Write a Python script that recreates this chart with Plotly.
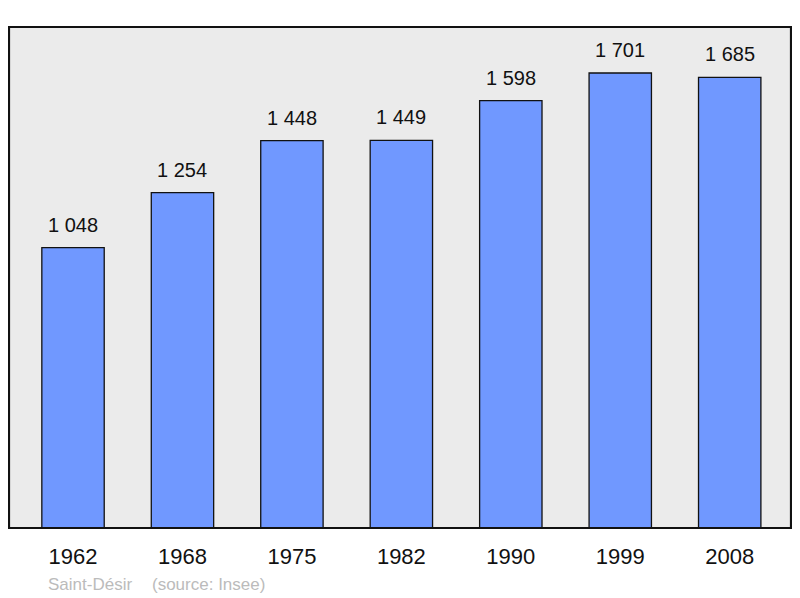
import plotly.graph_objects as go

years = ["1962", "1968", "1975", "1982", "1990", "1999", "2008"]
population = [1048, 1254, 1448, 1449, 1598, 1701, 1685]
value_labels = ["1 048", "1 254", "1 448", "1 449", "1 598", "1 701", "1 685"]

xs = list(range(len(years)))
FONT = "Liberation Sans, Arial, sans-serif"

fig = go.Figure()
fig.add_trace(go.Bar(
    x=xs, y=population, width=0.57,
    marker=dict(color="#7098FF", line=dict(color="#111111", width=1.3)),
    hoverinfo="skip",
))

for x, v, t in zip(xs, population, value_labels):
    fig.add_annotation(x=x, y=v, text=t, showarrow=False, yanchor="bottom",
                       yshift=10, font=dict(family=FONT, size=20, color="#111111"))

fig.add_annotation(xref="paper", yref="paper", x=(46 - 9) / 782, y=-0.112, xanchor="left", yanchor="middle",
                   text="Saint-Désir", showarrow=False,
                   font=dict(family=FONT, size=17, color="#BBBBBB"))
fig.add_annotation(xref="paper", yref="paper", x=(150 - 9) / 782, y=-0.112, xanchor="left", yanchor="middle",
                   text="(source: Insee)", showarrow=False,
                   font=dict(family=FONT, size=17, color="#BBBBBB"))

fig.add_shape(type="rect", xref="paper", yref="paper", x0=0, y0=0, x1=1, y1=1,
              line=dict(color="#111111", width=2.2), layer="above")

fig.update_layout(
    width=800, height=598,
    margin=dict(l=1, r=17, t=19, b=78),
    plot_bgcolor="#EBEBEB", paper_bgcolor="white",
    showlegend=False,
    xaxis=dict(range=[-0.585, 6.56], tickvals=xs, ticktext=years, showgrid=False, zeroline=False,
               ticks="outside", ticklen=9, tickcolor="rgba(0,0,0,0)",
               tickfont=dict(family=FONT, size=22, color="#111111")),
    yaxis=dict(range=[0, 1873], showgrid=False, zeroline=False, showticklabels=False, ticks=""),
)

fig.write_html("out.html")
